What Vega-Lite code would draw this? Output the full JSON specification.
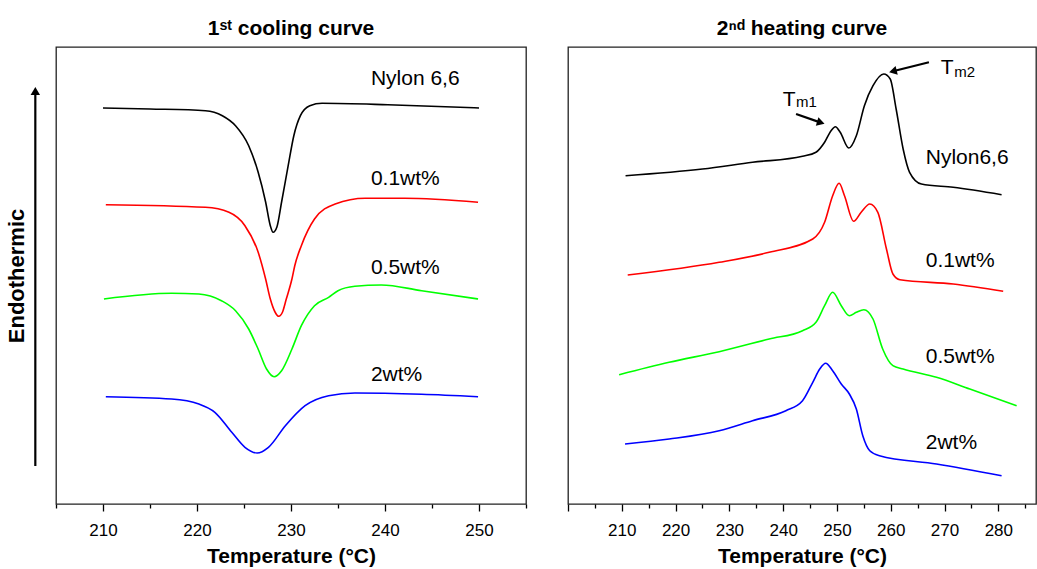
{
  "$schema": "https://vega.github.io/schema/vega-lite/v6.json",
  "padding": {"left": 4, "top": 17, "right": 2, "bottom": 2},
  "background": "white",
  "config": {
    "font": "Liberation Sans",
    "view": {"stroke": "#222", "strokeWidth": 1.3},
    "axis": {"grid": false, "labelFontSize": 17, "labelColor": "#000", "titleFontSize": 21, "titleFontWeight": "bold", "titleColor": "#000", "tickColor": "#000", "tickWidth": 1.3, "domain": false, "labelFont": "Liberation Sans", "titleFont": "Liberation Sans"},
    "title": {"fontSize": 21, "fontWeight": "bold", "font": "Liberation Sans", "color": "#000", "offset": 8},
    "concat": {"spacing": 38}
  },
  "datasets": {
    "cool": [
      {"s": "N", "T": 210.0, "H": 396}, {"s": "N", "T": 215.0, "H": 395}, {"s": "N", "T": 220.9, "H": 393.3}, {"s": "N", "T": 222.7, "H": 388.3}, {"s": "N", "T": 224.1, "H": 378.3}, {"s": "N", "T": 225.5, "H": 358.3}, {"s": "N", "T": 226.5, "H": 332}, {"s": "N", "T": 227.3, "H": 302}, {"s": "N", "T": 227.8, "H": 278.3}, {"s": "N", "T": 228.1, "H": 271.7}, {"s": "N", "T": 228.5, "H": 277}, {"s": "N", "T": 229.0, "H": 302}, {"s": "N", "T": 229.7, "H": 338.3}, {"s": "N", "T": 230.3, "H": 368.3}, {"s": "N", "T": 231.0, "H": 388.3}, {"s": "N", "T": 232.0, "H": 398.3}, {"s": "N", "T": 233.3, "H": 400.7}, {"s": "N", "T": 240.3, "H": 399.3}, {"s": "N", "T": 250.0, "H": 396},
      {"s": "0.1", "T": 210.3, "H": 299.3}, {"s": "0.1", "T": 220.9, "H": 296.7}, {"s": "0.1", "T": 223.4, "H": 291.7}, {"s": "0.1", "T": 225.1, "H": 278.3}, {"s": "0.1", "T": 226.5, "H": 252}, {"s": "0.1", "T": 227.3, "H": 225}, {"s": "0.1", "T": 227.8, "H": 205}, {"s": "0.1", "T": 228.3, "H": 192}, {"s": "0.1", "T": 228.7, "H": 187.7}, {"s": "0.1", "T": 229.1, "H": 192}, {"s": "0.1", "T": 229.5, "H": 205}, {"s": "0.1", "T": 230.1, "H": 225}, {"s": "0.1", "T": 230.4, "H": 238.3}, {"s": "0.1", "T": 231.1, "H": 258.3}, {"s": "0.1", "T": 232.5, "H": 285}, {"s": "0.1", "T": 234.7, "H": 300}, {"s": "0.1", "T": 237.9, "H": 305.7}, {"s": "0.1", "T": 242.1, "H": 305.7}, {"s": "0.1", "T": 249.9, "H": 301.7},
      {"s": "0.5", "T": 210.1, "H": 205}, {"s": "0.5", "T": 217.3, "H": 210.7}, {"s": "0.5", "T": 220.2, "H": 210}, {"s": "0.5", "T": 222.6, "H": 203.3}, {"s": "0.5", "T": 224.1, "H": 193.3}, {"s": "0.5", "T": 225.5, "H": 175}, {"s": "0.5", "T": 226.5, "H": 155}, {"s": "0.5", "T": 227.4, "H": 135}, {"s": "0.5", "T": 228.2, "H": 127.3}, {"s": "0.5", "T": 229.0, "H": 133.3}, {"s": "0.5", "T": 230.1, "H": 155}, {"s": "0.5", "T": 231.1, "H": 178.3}, {"s": "0.5", "T": 232.5, "H": 198.3}, {"s": "0.5", "T": 234.0, "H": 206.7}, {"s": "0.5", "T": 235.0, "H": 213.3}, {"s": "0.5", "T": 236.8, "H": 217.7}, {"s": "0.5", "T": 239.6, "H": 219}, {"s": "0.5", "T": 243.9, "H": 213.3}, {"s": "0.5", "T": 249.9, "H": 205},
      {"s": "2", "T": 210.3, "H": 107.3}, {"s": "2", "T": 217.3, "H": 105}, {"s": "2", "T": 220.2, "H": 100}, {"s": "2", "T": 221.9, "H": 91.7}, {"s": "2", "T": 223.7, "H": 71.7}, {"s": "2", "T": 225.1, "H": 56.7}, {"s": "2", "T": 226.4, "H": 51}, {"s": "2", "T": 227.6, "H": 56.7}, {"s": "2", "T": 229.4, "H": 78.3}, {"s": "2", "T": 231.5, "H": 98.3}, {"s": "2", "T": 234.0, "H": 108.3}, {"s": "2", "T": 236.8, "H": 111}, {"s": "2", "T": 243.9, "H": 109.7}, {"s": "2", "T": 249.9, "H": 107.3}
    ],
    "heat": [
      {"s": "N", "T": 210.7, "H": 328.3}, {"s": "N", "T": 225.0, "H": 335}, {"s": "N", "T": 234.3, "H": 341.7}, {"s": "N", "T": 243.6, "H": 347.7}, {"s": "N", "T": 246.1, "H": 351.7}, {"s": "N", "T": 247.7, "H": 361.7}, {"s": "N", "T": 248.9, "H": 373.3}, {"s": "N", "T": 249.7, "H": 377.3}, {"s": "N", "T": 250.6, "H": 371.7}, {"s": "N", "T": 252.2, "H": 356}, {"s": "N", "T": 253.6, "H": 368.3}, {"s": "N", "T": 255.1, "H": 398.3}, {"s": "N", "T": 256.7, "H": 418.3}, {"s": "N", "T": 258.7, "H": 430}, {"s": "N", "T": 259.9, "H": 425}, {"s": "N", "T": 261.0, "H": 395}, {"s": "N", "T": 262.3, "H": 355}, {"s": "N", "T": 263.5, "H": 331.7}, {"s": "N", "T": 265.7, "H": 320}, {"s": "N", "T": 271.6, "H": 316.7}, {"s": "N", "T": 280.6, "H": 309.3},
      {"s": "0.1", "T": 211.1, "H": 229}, {"s": "0.1", "T": 228.1, "H": 241.7}, {"s": "0.1", "T": 237.4, "H": 251.7}, {"s": "0.1", "T": 245.5, "H": 265}, {"s": "0.1", "T": 247.7, "H": 281.7}, {"s": "0.1", "T": 249.2, "H": 308.3}, {"s": "0.1", "T": 250.4, "H": 320.7}, {"s": "0.1", "T": 251.4, "H": 308.3}, {"s": "0.1", "T": 253.1, "H": 282.7}, {"s": "0.1", "T": 254.5, "H": 291.7}, {"s": "0.1", "T": 256.1, "H": 300}, {"s": "0.1", "T": 257.6, "H": 291.7}, {"s": "0.1", "T": 259.2, "H": 255}, {"s": "0.1", "T": 260.4, "H": 230}, {"s": "0.1", "T": 261.7, "H": 224.3}, {"s": "0.1", "T": 271.6, "H": 220}, {"s": "0.1", "T": 280.9, "H": 212.7},
      {"s": "0.5", "T": 209.5, "H": 129.3}, {"s": "0.5", "T": 218.8, "H": 141.7}, {"s": "0.5", "T": 228.1, "H": 152.3}, {"s": "0.5", "T": 237.4, "H": 165}, {"s": "0.5", "T": 243.6, "H": 173.3}, {"s": "0.5", "T": 246.1, "H": 181.7}, {"s": "0.5", "T": 247.7, "H": 198.3}, {"s": "0.5", "T": 249.2, "H": 211.7}, {"s": "0.5", "T": 250.8, "H": 198.3}, {"s": "0.5", "T": 252.3, "H": 188.3}, {"s": "0.5", "T": 253.6, "H": 191.7}, {"s": "0.5", "T": 255.0, "H": 194.3}, {"s": "0.5", "T": 256.7, "H": 185}, {"s": "0.5", "T": 258.5, "H": 155}, {"s": "0.5", "T": 260.4, "H": 138.3}, {"s": "0.5", "T": 262.3, "H": 135}, {"s": "0.5", "T": 268.5, "H": 126.7}, {"s": "0.5", "T": 274.7, "H": 115}, {"s": "0.5", "T": 283.4, "H": 98.3},
      {"s": "2", "T": 210.6, "H": 60}, {"s": "2", "T": 218.8, "H": 65}, {"s": "2", "T": 228.1, "H": 73.3}, {"s": "2", "T": 234.3, "H": 83.3}, {"s": "2", "T": 240.5, "H": 93.3}, {"s": "2", "T": 243.6, "H": 103.3}, {"s": "2", "T": 245.5, "H": 121.7}, {"s": "2", "T": 246.8, "H": 135}, {"s": "2", "T": 247.9, "H": 140.7}, {"s": "2", "T": 249.2, "H": 133.3}, {"s": "2", "T": 250.8, "H": 120}, {"s": "2", "T": 252.3, "H": 110}, {"s": "2", "T": 253.6, "H": 95}, {"s": "2", "T": 254.8, "H": 68.3}, {"s": "2", "T": 256.1, "H": 53.3}, {"s": "2", "T": 257.9, "H": 48.3}, {"s": "2", "T": 268.5, "H": 40}, {"s": "2", "T": 280.6, "H": 28.3}
    ],
    "coolLab": [
      {"txt": "Nylon 6,6", "T": 238.5, "H": 419}, {"txt": "0.1wt%", "T": 238.5, "H": 319}, {"txt": "0.5wt%", "T": 238.5, "H": 230}, {"txt": "2wt%", "T": 238.5, "H": 122.7}
    ],
    "heatLab": [
      {"txt": "Nylon6,6", "T": 266.5, "H": 340}, {"txt": "0.1wt%", "T": 266.5, "H": 236.7}, {"txt": "0.5wt%", "T": 266.5, "H": 140.7}, {"txt": "2wt%", "T": 266.5, "H": 55}
    ],
    "tLab": [{"txt": "T", "T": 239.9, "H": 398.3}, {"txt": "T", "T": 269.3, "H": 430}],
    "subLab": [{"txt": "m1", "T": 242.4, "H": 396.7}, {"txt": "m2", "T": 271.8, "H": 426.7}],
    "tmArrow": [
      {"id": "m1", "T": 242.4, "H": 390, "T2": 247.0, "H2": 381.4},
      {"id": "m2", "T": 267.1, "H": 441.7, "T2": 260.4, "H2": 432.7}
    ],
    "endoArrow": [{"T": 202.8, "H": 38, "H2": 410}],
    "endoHead": [{"T": 202.8, "H": 413}]
  },
  "hconcat": [
    {
      "width": 470,
      "height": 457,
      "title": {"text": "1ˢᵗ cooling curve"},
      "encoding": {
        "x": {"field": "T", "type": "quantitative", "scale": {"domain": [205, 255], "nice": false, "zero": false},
          "axis": {"title": "Temperature (°C)", "values": [205, 210, 215, 220, 225, 230, 235, 240, 245, 250, 255], "labelExpr": "datum.value % 10 === 0 ? datum.label : ''", "tickSize": {"condition": {"test": "datum.value % 10 === 0", "value": 7}, "value": 4}, "labelPadding": 11, "titlePadding": 7}},
        "y": {"field": "H", "type": "quantitative", "scale": {"domain": [0, 457], "nice": false, "zero": false},
          "axis": {"title": "Endothermic", "titleFontSize": 22, "labels": false, "ticks": false, "domain": false, "titlePadding": 28}}
      },
      "layer": [
        {"data": {"name": "cool"}, "mark": {"type": "line", "strokeWidth": 1.6, "interpolate": "monotone"},
          "encoding": {"color": {"field": "s", "type": "nominal", "scale": {"domain": ["N", "0.1", "0.5", "2"], "range": ["#000000", "#ff0000", "#00ff00", "#0000ff"]}, "legend": null}}},
        {"data": {"name": "coolLab"}, "mark": {"type": "text", "align": "left", "baseline": "alphabetic", "fontSize": 21, "color": "#000"},
          "encoding": {"text": {"field": "txt"}}},
        {"data": {"name": "endoArrow"}, "mark": {"type": "rule", "strokeWidth": 2.2, "color": "#000"},
          "encoding": {"y2": {"field": "H2"}}},
        {"data": {"name": "endoHead"}, "mark": {"type": "point", "shape": "triangle-up", "filled": true, "size": 90, "color": "#000", "opacity": 1},
          "encoding": {}}
      ]
    },
    {
      "width": 468,
      "height": 457,
      "title": {"text": "2ⁿᵈ heating curve"},
      "encoding": {
        "x": {"field": "T", "type": "quantitative", "scale": {"domain": [200, 287], "nice": false, "zero": false},
          "axis": {"title": "Temperature (°C)", "values": [200, 205, 210, 215, 220, 225, 230, 235, 240, 245, 250, 255, 260, 265, 270, 275, 280, 285], "labelExpr": "datum.value % 10 === 0 && datum.value > 200 ? datum.label : ''", "tickSize": {"condition": {"test": "datum.value % 10 === 0", "value": 7}, "value": 4}, "labelPadding": 11, "titlePadding": 7}},
        "y": {"field": "H", "type": "quantitative", "scale": {"domain": [0, 457], "nice": false, "zero": false}, "axis": null}
      },
      "layer": [
        {"data": {"name": "heat"}, "mark": {"type": "line", "strokeWidth": 1.6, "interpolate": "monotone"},
          "encoding": {"color": {"field": "s", "type": "nominal", "scale": {"domain": ["N", "0.1", "0.5", "2"], "range": ["#000000", "#ff0000", "#00ff00", "#0000ff"]}, "legend": null}}},
        {"data": {"name": "heatLab"}, "mark": {"type": "text", "align": "left", "baseline": "alphabetic", "fontSize": 21, "color": "#000"},
          "encoding": {"text": {"field": "txt"}}},
        {"data": {"name": "tLab"}, "mark": {"type": "text", "align": "left", "baseline": "alphabetic", "fontSize": 21, "color": "#000"},
          "encoding": {"text": {"field": "txt"}}},
        {"data": {"name": "subLab"}, "mark": {"type": "text", "align": "left", "baseline": "alphabetic", "fontSize": 15, "color": "#000"},
          "encoding": {"text": {"field": "txt"}}},
        {"data": {"name": "tmArrow"}, "mark": {"type": "rule", "strokeWidth": 2.2, "color": "#000"},
          "encoding": {"x2": {"field": "T2"}, "y2": {"field": "H2"}}},
        {"data": {"name": "tmArrow"}, "transform": [{"filter": "datum.id === 'm1'"}], "mark": {"type": "point", "shape": "triangle-right", "filled": true, "size": 80, "angle": 17, "color": "#000", "opacity": 1},
          "encoding": {"x": {"field": "T2", "type": "quantitative"}, "y": {"field": "H2", "type": "quantitative"}}},
        {"data": {"name": "tmArrow"}, "transform": [{"filter": "datum.id === 'm2'"}], "mark": {"type": "point", "shape": "triangle-left", "filled": true, "size": 80, "angle": -14, "color": "#000", "opacity": 1},
          "encoding": {"x": {"field": "T2", "type": "quantitative"}, "y": {"field": "H2", "type": "quantitative"}}}
      ]
    }
  ]
}
